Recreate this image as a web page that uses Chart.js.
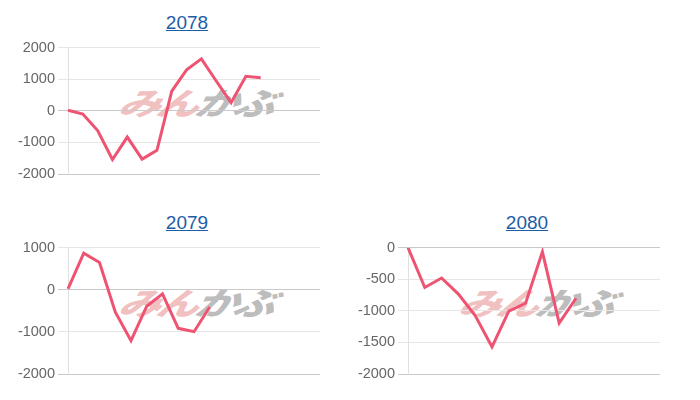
<!DOCTYPE html>
<html>
<head>
<meta charset="utf-8">
<script src="https://cdn.jsdelivr.net/npm/chart.js@4"></script>
<style>
    body { margin: 0; background: #fff; font-family: 'Liberation Sans', Arial, sans-serif; }
    #wrap { position: relative; width: 700px; height: 400px; overflow: hidden; }
    .cell { position: absolute; width: 340px; height: 200px; }
    .title { position: absolute; left: 0; width: 374px; top: 12px; text-align: center; font-size: 19px; }
    .title a { color: #1c5ea6; text-decoration: underline; }
    .logo { position: absolute; left: 120px; top: 84px; font-family: 'Noto Sans CJK JP', sans-serif;
            font-weight: 900; font-style: italic; font-size: 31px; line-height: 36px; white-space: nowrap;
            transform: skewX(-14deg) scaleX(1.36); transform-origin: left center; letter-spacing: -3px; }
    .logo .a { color: rgba(228, 130, 130, 0.5); }
    .logo .b { color: rgba(150, 150, 150, 0.65); }
    .box { position: absolute; left: 10px; top: 36px; width: 310px; height: 150px; }
</style>
</head>
<body>
<div id="wrap"></div>
<script>
// x categories (not shown on the axis)
const labels2078 = [1, 2, 3, 4, 5, 6, 7, 8, 9, 10, 11, 12, 13, 14, 15, 16, 17, 18];
const labels2079 = [1, 2, 3, 4, 5, 6, 7, 8, 9, 10, 11, 12, 13, 14, 15, 16, 17];
const labels2080 = [1, 2, 3, 4, 5, 6, 7, 8, 9, 10, 11, 12, 13, 14, 15, 16];

// series values
const values2078 = [20, -100, -625, -1540, -830, -1530, -1250, 625, 1300, 1645, 945, 260, 1095, 1050];
const values2079 = [20, 870, 650, -525, -1210, -390, -95, -915, -995, -410];
const values2080 = [0, -630, -480, -735, -1075, -1570, -1005, -880, -65, -1195, -800];

// y axis ranges: [min, max, step]
const axis2078 = [-2000, 2000, 1000];
const axis2079 = [-2000, 1000, 1000];
const axis2080 = [-2000, 0, 500];

Chart.defaults.font.family = "'Liberation Sans', Arial, sans-serif";
Chart.defaults.animation = false;

function addChart(title, left, top, labels, values, axis) {
    const wrap = document.getElementById('wrap');
    const cell = document.createElement('div');
    cell.className = 'cell';
    cell.style.left = left + 'px';
    cell.style.top = top + 'px';
    cell.innerHTML = '<div class="title"><a href="#">' + title + '</a></div>' +
        '<div class="logo"><span class="a">みん</span><span class="b">かぶ</span></div>' +
        '<div class="box"><canvas></canvas></div>';
    wrap.appendChild(cell);
    const ctx = cell.querySelector('canvas');

    new Chart(ctx, {
        type: 'line',
        data: {
            labels: labels,
            datasets: [{
                data: values,
                borderColor: '#ee5472',
                borderWidth: 3,
                pointRadius: 0,
                tension: 0,
                fill: false
            }]
        },
        options: {
            responsive: true,
            maintainAspectRatio: false,
            layout: { padding: { top: 10, bottom: 12, right: 0, left: 0 } },
            plugins: {
                legend: { display: false },
                tooltip: { enabled: false }
            },
            scales: {
                x: {
                    display: false,
                    offset: false
                },
                y: {
                    min: axis[0],
                    max: axis[1],
                    afterFit: function(scale) { scale.width = 58; },
                    ticks: {
                        stepSize: axis[2],
                        color: '#666',
                        font: { size: 14.5 },
                        callback: function(value) { return String(value); }
                    },
                    grid: {
                        color: function(c) {
                            return (c.tick && (c.tick.value === 0 || c.tick.value === axis[0])) ? '#c9c9c9' : '#e6e6e6';
                        },
                        tickLength: 10
                    },
                    border: { color: '#e0e0e0' }
                }
            }
        }
    });
}

addChart('2078', 0, 0, labels2078, values2078, axis2078);
addChart('2079', 0, 200, labels2079, values2079, axis2079);
addChart('2080', 340, 200, labels2080, values2080, axis2080);
</script>
</body>
</html>
